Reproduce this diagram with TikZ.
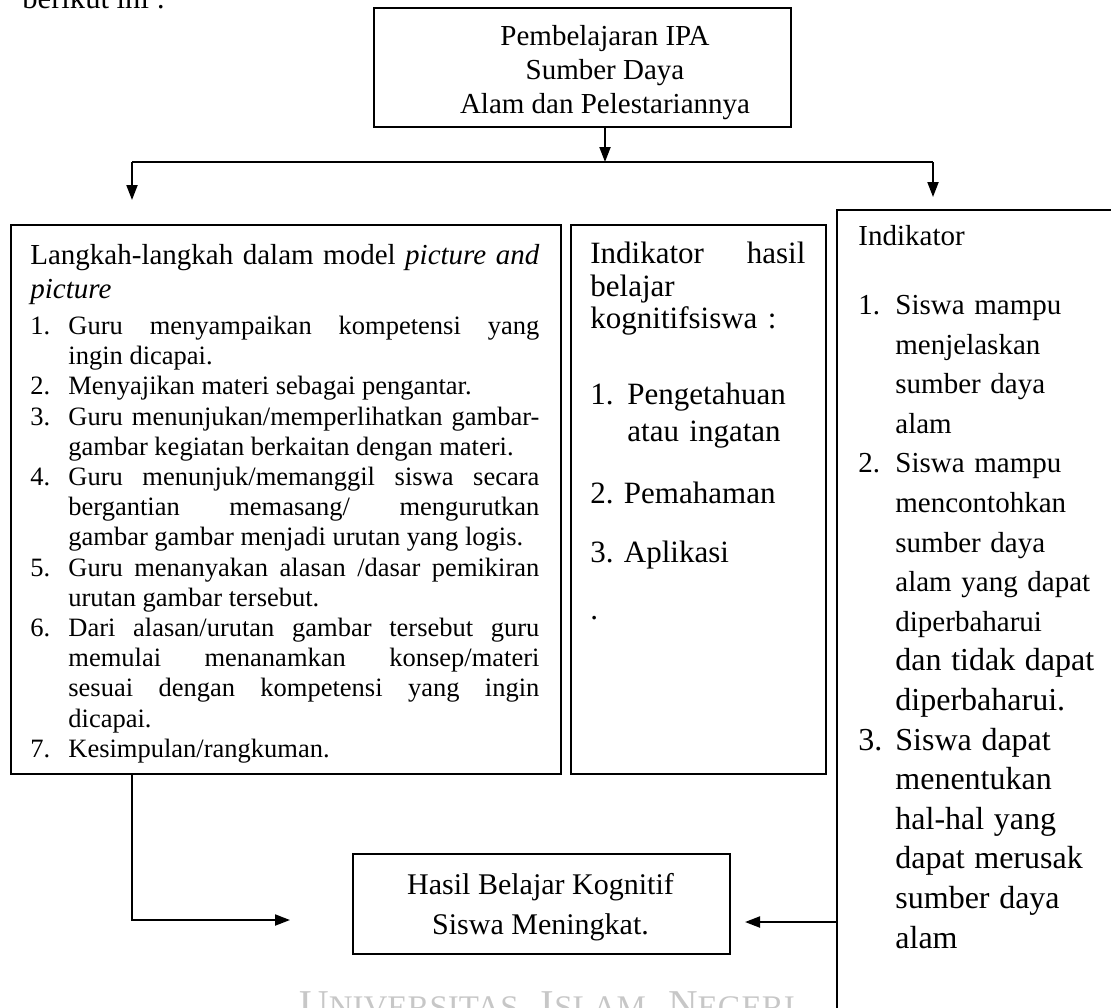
\documentclass[tikz,border=0pt]{standalone}
\usepackage{fontspec}
\setmainfont{Liberation Serif}
\usepackage{tikz}
\usetikzlibrary{positioning, calc, arrows.meta}
\setlength{\parindent}{0pt}
\frenchspacing

\newcommand{\butir}[2]{\par\noindent\hangindent=19pt\hangafter=1\makebox[19pt][l]{#1.}#2}
\newcommand{\nomor}[1]{\makebox[18.5pt][l]{#1.}}
\newcommand{\lanjut}{\hspace*{18.5pt}}
\newcommand{\kapital}[2]{{\fontsize{20.5}{21}\selectfont #1}{\fontsize{16.5}{17}\selectfont #2}}

\begin{document}
\begin{tikzpicture}[x=0.5pt, y=-0.5pt,
	kotak/.style={draw, line width=1pt, inner sep=0pt, anchor=north west},
	teks/.style={inner sep=0pt, anchor=north west},
	panah/.style={line width=1pt, -{Triangle[length=7.5pt, width=5.5pt]}}]
\useasboundingbox (0, 0) rectangle (1111, 1007);

\node[teks, anchor=base west, font=\fontsize{15.3}{17}\selectfont] (pengantar) at (22, 8) {berikut ini :};
\node[teks, anchor=north, text=black!22] (watermark) at (547, 991)
	{\kapital{U}{NIVERSITAS}\hspace{11pt}\kapital{I}{SLAM}\hspace{11pt}\kapital{N}{EGERI}};

\node[kotak, minimum width=208.5pt, minimum height=59.5pt] (judul) at (373, 7) {};
\node[teks, anchor=north, align=center, font=\fontsize{14.5}{17}\selectfont] (judulteks) at (605, 25)
	{Pembelajaran IPA\\ Sumber Daya\\ Alam dan Pelestariannya};

\node[kotak, minimum width=275pt, minimum height=274.5pt] (langkah) at (10, 224) {};
\node[kotak, minimum width=127.5pt, minimum height=274.5pt] (indikhasil) at (570, 224) {};
\node[kotak, minimum width=150pt, minimum height=410pt] (indiksiswa) at (836, 209) {};
\node[kotak, minimum width=188.5pt, minimum height=50pt] (hasil) at (352, 853) {};

\node[teks, text width=254.5pt, align=justify] (langkahteks) at (30, 244) {%
	\sloppy\hyphenpenalty=10000
	\fontsize{14.5}{17}\selectfont Langkah-langkah dalam model \textit{picture and}\linebreak \textit{picture}\par
	\vspace{2.9pt}\fontsize{13.25}{15.1}\selectfont
	\butir{1}{Guru menyampaikan kompetensi yang\linebreak ingin dicapai.}
	\butir{2}{Menyajikan materi sebagai pengantar.}
	\butir{3}{Guru menunjukan/memperlihatkan gambar-\linebreak gambar kegiatan berkaitan dengan materi.}
	\butir{4}{Guru menunjuk/memanggil siswa secara\linebreak bergantian memasang/ mengurutkan\linebreak gambar gambar menjadi urutan yang logis.}
	\butir{5}{Guru menanyakan alasan /dasar pemikiran\linebreak urutan gambar tersebut.}
	\butir{6}{Dari alasan/urutan gambar tersebut guru\linebreak memulai menanamkan konsep/materi\linebreak sesuai dengan kompetensi yang ingin\linebreak dicapai.}
	\butir{7}{Kesimpulan/rangkuman.}\par};

\node[teks, text width=107.5pt, align=left, font=\fontsize{15.5}{16.25}\selectfont] (indikhasilteks) at (590, 242) {%
	Indikator\hfill hasil\\
	belajar\\
	kognitifsiswa :\\[21.75pt]
	\nomor{1}Pengetahuan\\[2.25pt]
	\lanjut atau ingatan\\[14.75pt]
	2. Pemahaman\\[13.25pt]
	3. Aplikasi\\[12.25pt]
	.};

\node[teks, text width=200pt, align=left, font=\fontsize{14.5}{19.8}\selectfont] (indiksiswateks) at (858, 225) {%
	Indikator\\[14.7pt]
	\nomor{1}Siswa mampu\\
	\lanjut menjelaskan\\
	\lanjut sumber daya\\
	\lanjut alam\\
	\nomor{2}Siswa mampu\\
	\lanjut mencontohkan\\
	\lanjut sumber daya\\
	\lanjut alam yang dapat\\
	\lanjut diperbaharui\\
	\fontsize{16}{19.8}\selectfont
	\lanjut dan tidak dapat\\
	\lanjut diperbaharui.\\
	\nomor{3}Siswa dapat\\
	\lanjut menentukan\\
	\lanjut hal-hal yang\\
	\lanjut dapat merusak\\
	\lanjut sumber daya\\
	\lanjut alam};

\node[teks, anchor=north, align=center, font=\fontsize{15}{20}\selectfont] (hasilteks) at (540.5, 872.5)
	{Hasil Belajar Kognitif\\ Siswa Meningkat.};

\coordinate (cabang) at (605, 162);
\coordinate (kiri) at (132, 162);
\coordinate (kanan) at (933, 162);
\coordinate (ujungkiri) at (132, 200);
\coordinate (ujungkanan) at (933, 197);
\coordinate (masukkiri) at (290, 920);
\coordinate (masukkanan) at (745, 922);

\draw[panah] (judul.south -| cabang) -- (cabang);
\draw[line width=1pt] (kiri) -- (kanan);
\draw[panah] (kiri) -- (ujungkiri);
\draw[panah] (kanan) -- (ujungkanan);
\draw[panah] (langkah.south -| kiri) |- (masukkiri);
\draw[panah] (indiksiswa.west |- masukkanan) -- (masukkanan);
\end{tikzpicture}
\end{document}
